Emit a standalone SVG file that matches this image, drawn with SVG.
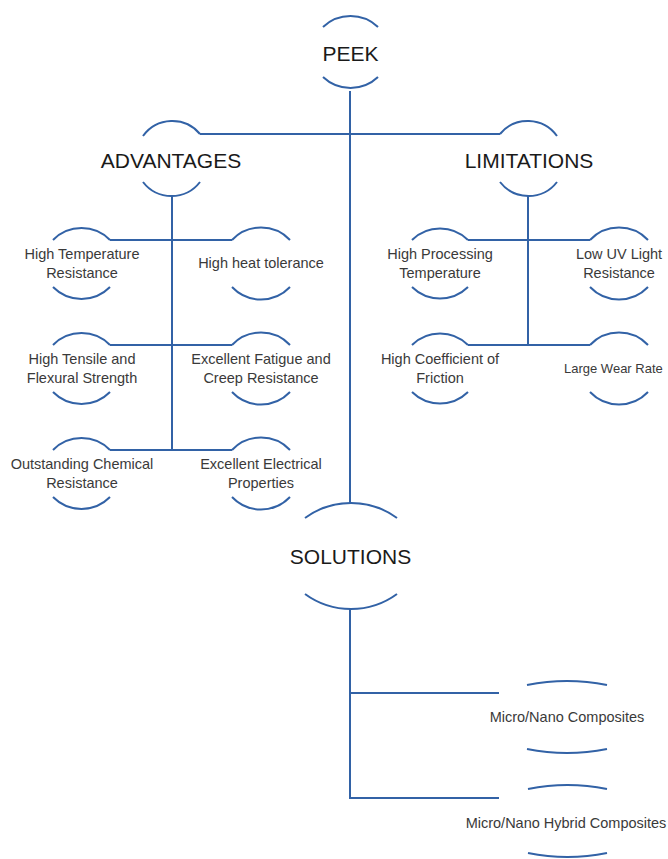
<svg xmlns="http://www.w3.org/2000/svg" width="668" height="859" viewBox="0 0 668 859">
<style>
.arc{fill:none;stroke:#3262a6;stroke-width:2}
.ln{fill:none;stroke:#3262a6;stroke-width:2}
.t1{font-family:"Liberation Sans",Arial,sans-serif;font-size:21px;fill:#1a1a1a;text-anchor:middle}
.t2{font-family:"Liberation Sans",Arial,sans-serif;font-size:14.5px;fill:#3a3a3a;text-anchor:middle}
</style>
<rect width="668" height="859" fill="#ffffff"/>
<g id="connectors">
<path class="ln" d="M350 91 V503"/>
<path class="ln" d="M200 134 H500"/>
<path class="ln" d="M172 196 V450"/>
<path class="ln" d="M110 240 H232 M110 345 H232 M110 450 H232"/>
<path class="ln" d="M528 196 V345"/>
<path class="ln" d="M468 240 H590 M468 345 H590"/>
<path class="ln" d="M350 608 V798 H499 M350 693 H499"/>
</g>
<g id="peek">
<path class="arc" d="M323 27 A40 40 0 0 1 378 27"/>
<text class="t1" x="350.5" y="61">PEEK</text>
<path class="arc" d="M323 77 A40 40 0 0 0 378 77"/>
</g>
<g id="advantages">
<path class="arc" d="M143 136 A36 36 0 0 1 200 134"/>
<text class="t1" x="171" y="168">ADVANTAGES</text>
<path class="arc" d="M143 182 A36 36 0 0 0 200 182"/>
</g>
<g id="limitations">
<path class="arc" d="M500 134 A36 36 0 0 1 557 136"/>
<text class="t1" x="529" y="168">LIMITATIONS</text>
<path class="arc" d="M500 182 A36 36 0 0 0 557 182"/>
</g>
<g id="adv-high-temp">
<path class="arc" d="M53 240 A40 40 0 0 1 110 240"/>
<text class="t2" x="82" y="259">High Temperature</text>
<text class="t2" x="82" y="278">Resistance</text>
<path class="arc" d="M53 287 A40 40 0 0 0 110 287"/>
</g>
<g id="adv-heat">
<path class="arc" d="M232 240 A40 40 0 0 1 290 240"/>
<text class="t2" x="261" y="268">High heat tolerance</text>
<path class="arc" d="M232 287 A40 40 0 0 0 290 287"/>
</g>
<g id="adv-tensile">
<path class="arc" d="M53 345 A40 40 0 0 1 110 345"/>
<text class="t2" x="82" y="364">High Tensile and</text>
<text class="t2" x="82" y="383">Flexural Strength</text>
<path class="arc" d="M53 392 A40 40 0 0 0 110 392"/>
</g>
<g id="adv-fatigue">
<path class="arc" d="M232 345 A40 40 0 0 1 290 345"/>
<text class="t2" x="261" y="364">Excellent Fatigue and</text>
<text class="t2" x="261" y="383">Creep Resistance</text>
<path class="arc" d="M232 392 A40 40 0 0 0 290 392"/>
</g>
<g id="adv-chemical">
<path class="arc" d="M53 450 A40 40 0 0 1 110 450"/>
<text class="t2" x="82" y="469">Outstanding Chemical</text>
<text class="t2" x="82" y="488">Resistance</text>
<path class="arc" d="M53 497 A40 40 0 0 0 110 497"/>
</g>
<g id="adv-electrical">
<path class="arc" d="M232 450 A40 40 0 0 1 290 450"/>
<text class="t2" x="261" y="469">Excellent Electrical</text>
<text class="t2" x="261" y="488">Properties</text>
<path class="arc" d="M232 497 A40 40 0 0 0 290 497"/>
</g>
<g id="lim-processing">
<path class="arc" d="M412 240 A40 40 0 0 1 468 240"/>
<text class="t2" x="440" y="259">High Processing</text>
<text class="t2" x="440" y="278">Temperature</text>
<path class="arc" d="M412 287 A40 40 0 0 0 468 287"/>
</g>
<g id="lim-uv">
<path class="arc" d="M590 240 A40 40 0 0 1 648 240"/>
<text class="t2" x="619" y="259">Low UV Light</text>
<text class="t2" x="619" y="278">Resistance</text>
<path class="arc" d="M590 287 A40 40 0 0 0 648 287"/>
</g>
<g id="lim-wear">
<path class="arc" d="M590 345 A40 40 0 0 1 648 345"/>
<text class="t2" x="564" y="373" style="text-anchor:start;font-size:13px">Large Wear Rate</text>
<path class="arc" d="M590 392 A40 40 0 0 0 648 392"/>
</g>
<g id="lim-friction">
<path class="arc" d="M412 345 A40 40 0 0 1 468 345"/>
<text class="t2" x="440" y="364">High Coefficient of</text>
<text class="t2" x="440" y="383">Friction</text>
<path class="arc" d="M412 392 A40 40 0 0 0 468 392"/>
</g>
<g id="solutions">
<path class="arc" d="M305 518 A78 78 0 0 1 397 518"/>
<text class="t1" x="350.5" y="564">SOLUTIONS</text>
<path class="arc" d="M305 594 A78 78 0 0 0 397 594"/>
</g>
<g id="sol-composites">
<path class="arc" d="M527 685 A200 200 0 0 1 607 685"/>
<text class="t2" x="567" y="722">Micro/Nano Composites</text>
<path class="arc" d="M527 749 A200 200 0 0 0 607 749"/>
</g>
<g id="sol-hybrid">
<path class="arc" d="M528 789 A200 200 0 0 1 607 789"/>
<text class="t2" x="566" y="828">Micro/Nano Hybrid Composites</text>
<path class="arc" d="M528 853 A200 200 0 0 0 607 853"/>
</g>
</svg>
